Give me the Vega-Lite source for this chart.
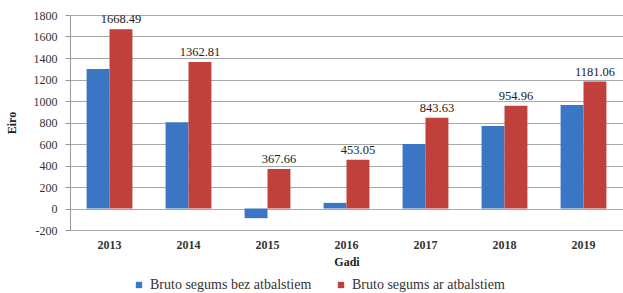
{
  "$schema": "https://vega.github.io/schema/vega-lite/v6.json",
  "width": 553,
  "height": 215,
  "autosize": {"type": "none"},
  "padding": {"left": 70, "top": 15, "right": 0, "bottom": 63},
  "background": "white",
  "config": {
    "font": "Liberation Serif",
    "view": {"stroke": null}
  },
  "data": {
    "values": [
      {"year": "2013", "series": "Bruto segums bez atbalstiem", "value": 1298},
      {"year": "2013", "series": "Bruto segums ar atbalstiem", "value": 1668.49},
      {"year": "2014", "series": "Bruto segums bez atbalstiem", "value": 803},
      {"year": "2014", "series": "Bruto segums ar atbalstiem", "value": 1362.81},
      {"year": "2015", "series": "Bruto segums bez atbalstiem", "value": -90},
      {"year": "2015", "series": "Bruto segums ar atbalstiem", "value": 367.66},
      {"year": "2016", "series": "Bruto segums bez atbalstiem", "value": 52},
      {"year": "2016", "series": "Bruto segums ar atbalstiem", "value": 453.05},
      {"year": "2017", "series": "Bruto segums bez atbalstiem", "value": 600},
      {"year": "2017", "series": "Bruto segums ar atbalstiem", "value": 843.63},
      {"year": "2018", "series": "Bruto segums bez atbalstiem", "value": 767},
      {"year": "2018", "series": "Bruto segums ar atbalstiem", "value": 954.96},
      {"year": "2019", "series": "Bruto segums bez atbalstiem", "value": 963},
      {"year": "2019", "series": "Bruto segums ar atbalstiem", "value": 1181.06}
    ]
  },
  "encoding": {
    "x": {
      "field": "year", "type": "nominal",
      "scale": {"paddingInner": 0.42, "paddingOuter": 0.21},
      "axis": {
        "title": "Gadi", "titleFont": "Liberation Serif", "titleFontSize": 12, "titleFontWeight": "bold",
        "titleColor": "#222", "titlePadding": 6,
        "labelAngle": 0, "labelFont": "Liberation Serif", "labelFontSize": 12, "labelFontWeight": "bold",
        "labelColor": "#333", "labelPadding": 9, "ticks": false, "domain": false
      }
    },
    "xOffset": {"field": "series", "type": "nominal", "sort": ["Bruto segums bez atbalstiem", "Bruto segums ar atbalstiem"]},
    "y": {
      "field": "value", "type": "quantitative",
      "scale": {"domain": [-200, 1800], "nice": false},
      "axis": {
        "title": "Eiro", "titleFont": "Liberation Serif", "titleFontSize": 12, "titleFontWeight": "bold",
        "titleColor": "#222", "titlePadding": 15,
        "values": [-200, 0, 200, 400, 600, 800, 1000, 1200, 1400, 1600, 1800],
        "labelExpr": "toString(datum.value)",
        "labelFont": "Liberation Serif", "labelFontSize": 12, "labelColor": "#333", "labelPadding": 8,
        "ticks": true, "tickSize": 5, "tickColor": "#999",
        "domain": true, "domainColor": "#999",
        "grid": true, "gridColor": "#a8a8a8", "gridWidth": 1
      }
    }
  },
  "layer": [
    {
      "mark": {"type": "bar"},
      "encoding": {
        "color": {
          "field": "series", "type": "nominal",
          "sort": ["Bruto segums bez atbalstiem", "Bruto segums ar atbalstiem"],
          "scale": {"range": ["#3a76c4", "#c0403c"]},
          "legend": {
            "title": null, "orient": "none", "direction": "horizontal",
            "legendX": 62, "legendY": 263,
            "symbolType": "square", "symbolSize": 40, "symbolStrokeWidth": 0,
            "labelFont": "Liberation Serif", "labelFontSize": 14, "labelColor": "#333", "labelLimit": 0,
            "columnPadding": 22, "labelOffset": 4
          }
        }
      }
    },
    {
      "transform": [{"filter": "datum.series === 'Bruto segums ar atbalstiem'"}],
      "mark": {"type": "text", "baseline": "bottom", "dy": -3, "fontSize": 12.5, "font": "Liberation Serif", "color": "#222"},
      "encoding": {
        "text": {"field": "value", "type": "quantitative", "format": ".2f"}
      }
    }
  ]
}
